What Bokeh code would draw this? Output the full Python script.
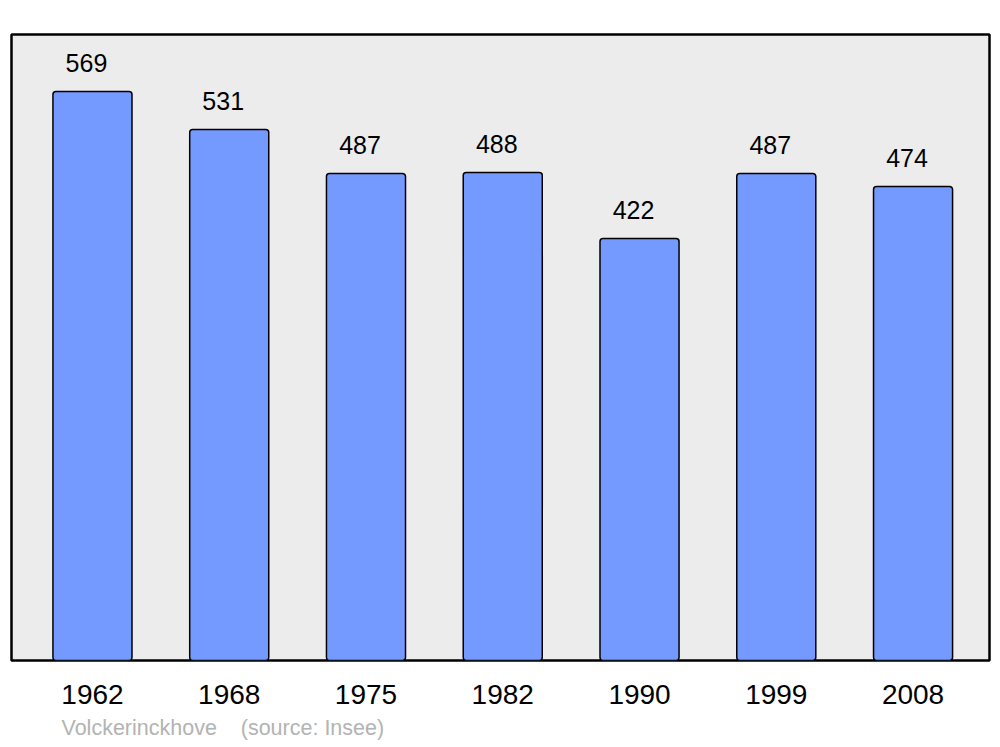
from bokeh.plotting import figure
from bokeh.models import Range1d, FixedTicker, ColumnDataSource, Title
from bokeh.core.properties import value
from bokeh.embed import file_html
from bokeh.resources import INLINE

years = ["1962", "1968", "1975", "1982", "1990", "1999", "2008"]
population = [569, 531, 487, 488, 422, 487, 474]
footer = "Volckerinckhove\u00a0\u00a0\u00a0\u00a0(source: Insee)"

FONT = "Liberation Sans"
xs = list(range(len(years)))

p = figure(width=1000, height=747, output_backend="svg", toolbar_location=None,
           x_range=Range1d(-0.592, 6.559), y_range=Range1d(0, 626),
           min_border_left=11, min_border_right=11, min_border_top=34, min_border_bottom=87)
p.background_fill_color = "#ececec"
p.border_fill_color = "white"
p.outline_line_color = "black"
p.outline_line_width = 2.5
p.xgrid.visible = False
p.ygrid.visible = False
p.yaxis.visible = False

src = ColumnDataSource(dict(x=xs, top=population, lab=[str(v) for v in population],
                            ly=[v + 29 for v in population]))
p.vbar(x="x", top="top", bottom=0, width=0.578, source=src, fill_color="#7499ff",
       line_color="black", line_width=1.5, border_radius=3)
p.text(x="x", y="ly", text="lab", source=src, text_font=value(FONT), text_font_size="25px",
       text_align="center", text_baseline="alphabetic", x_offset=-6, text_color="black")

ax = p.xaxis[0]
ax.ticker = FixedTicker(ticks=xs)
ax.major_label_overrides = {i: y for i, y in enumerate(years)}
ax.axis_line_color = None
ax.major_tick_line_color = None
ax.minor_tick_line_color = None
ax.major_label_text_font = FONT
ax.major_label_text_font_size = "28px"
ax.major_label_text_color = "black"
ax.major_label_standoff = 18

p.add_layout(Title(text=footer, align="left", offset=50, text_font=FONT, text_font_size="21.5px",
                   text_font_style="normal", text_color="#b3b3b3", standoff=15), "below")

open("out.html", "w").write(file_html(p, INLINE))
